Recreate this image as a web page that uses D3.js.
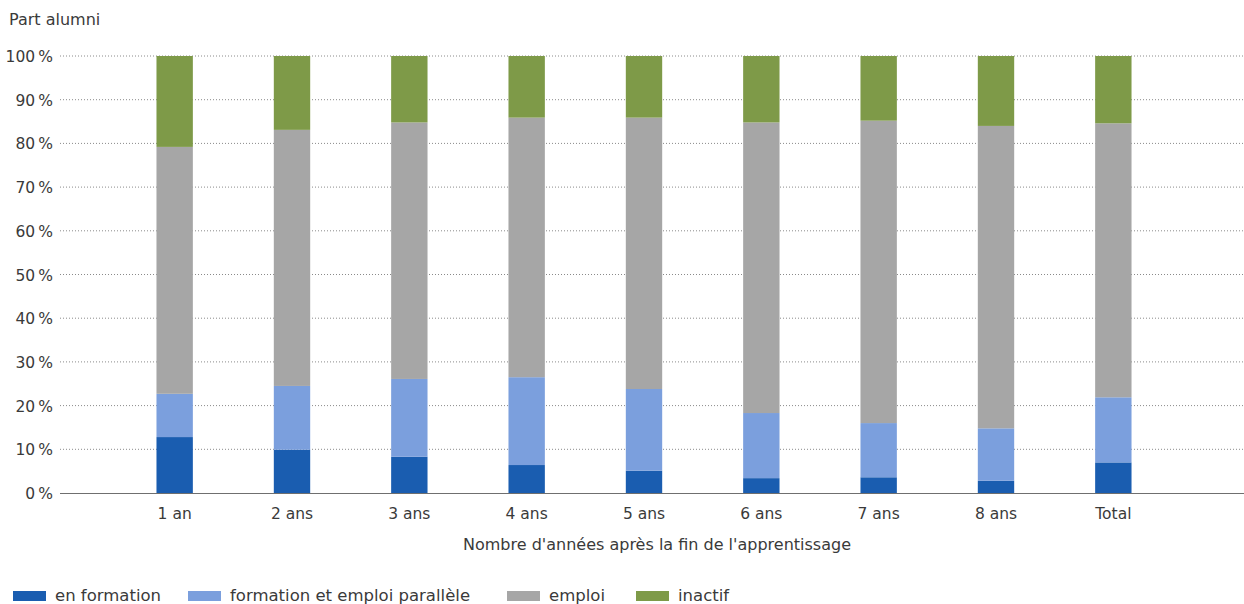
<!DOCTYPE html>
<html><head><meta charset="utf-8">
<script src="https://cdn.jsdelivr.net/npm/d3@7"></script>
<style>
body{margin:0;background:#fff;}
text{font-family:"DejaVu Sans",sans-serif;fill:#3a3a3a;}
</style></head>
<body><svg id="c" width="1244" height="604"></svg>
<script>
const categories = ["1 an","2 ans","3 ans","4 ans","5 ans","6 ans","7 ans","8 ans","Total"];
const seriesNames = ["en formation","formation et emploi parallèle","emploi","inactif"];
const enFormation = [12.8, 9.9, 8.3, 6.4, 5.1, 3.4, 3.6, 2.8, 7.0];
const formationEmploi = [9.9, 14.6, 17.8, 20.1, 18.7, 14.9, 12.4, 12.0, 14.9];
const emploi = [56.5, 58.6, 58.7, 59.4, 62.1, 66.5, 69.2, 69.2, 62.7];
const inactif = [20.8, 16.9, 15.2, 14.1, 14.1, 15.2, 14.8, 16.0, 15.4];
const yTicks = [0,10,20,30,40,50,60,70,80,90,100];
const colors = ["#1a5db0","#7b9fdd","#a6a6a6","#7e9a48"];

const svg = d3.select("#c");
const x = d3.scaleBand().domain(categories).range([116, 1172]).paddingInner(0.69).paddingOuter(0.345);
const y = d3.scaleLinear().domain([0,100]).range([493, 56]);

const rows = categories.map((c,i)=>({cat:c, "en formation":enFormation[i], "formation et emploi parallèle":formationEmploi[i], "emploi":emploi[i], "inactif":inactif[i]}));
const stack = d3.stack().keys(seriesNames)(rows);

// grid
svg.append("g").selectAll("line").data(yTicks.filter(d=>d>0)).join("line")
  .attr("x1",60).attr("x2",1244).attr("y1",d=>y(d)).attr("y2",d=>y(d))
  .attr("stroke","#8a8a8a").attr("stroke-width",1).attr("stroke-dasharray","1,2");

// y labels
const yAxis = d3.axisLeft(y).tickValues(yTicks).tickFormat(d=>d+"\u202F%").tickSize(0).tickPadding(0);
const ya = svg.append("g").attr("transform","translate(53,0)").call(yAxis);
ya.select(".domain").remove();
ya.selectAll("text").attr("font-size",15.5).attr("font-family","DejaVu Sans").attr("fill","#3a3a3a").attr("dy","0.36em");

// bars
svg.append("g").selectAll("g").data(stack).join("g").attr("fill",(d,i)=>colors[i])
  .selectAll("rect").data(d=>d).join("rect")
  .attr("x",d=>x(d.data.cat)).attr("width",x.bandwidth())
  .attr("y",d=>y(d[1])).attr("height",d=>y(d[0])-y(d[1]));

// baseline
svg.append("line").attr("x1",60).attr("x2",1244).attr("y1",y(0)+0.5).attr("y2",y(0)+0.5).attr("stroke","#6f6f6f").attr("stroke-width",1.2);

// x labels
const xAxis = d3.axisBottom(x).tickSize(0).tickPadding(0);
const xa = svg.append("g").attr("transform","translate(0,513)").call(xAxis);
xa.select(".domain").remove();
xa.selectAll("text").attr("font-size",15.5).attr("font-family","DejaVu Sans").attr("fill","#3a3a3a").attr("dy","0.36em");

svg.append("text").attr("x",657).attr("y",550).attr("text-anchor","middle").attr("font-size",16).text("Nombre d'années après la fin de l'apprentissage");
svg.append("text").attr("x",9).attr("y",25).attr("font-size",16).text("Part alumni");

// legend
const legX = [13, 188, 507, 636];
const lg = svg.append("g").selectAll("g").data(seriesNames).join("g").attr("transform",(d,i)=>`translate(${legX[i]},591)`);
lg.append("rect").attr("width",33).attr("height",10).attr("fill",(d,i)=>colors[i]);
lg.append("text").attr("x",42).attr("y",10).attr("font-size",16.5).text(d=>d);
</script></body></html>
